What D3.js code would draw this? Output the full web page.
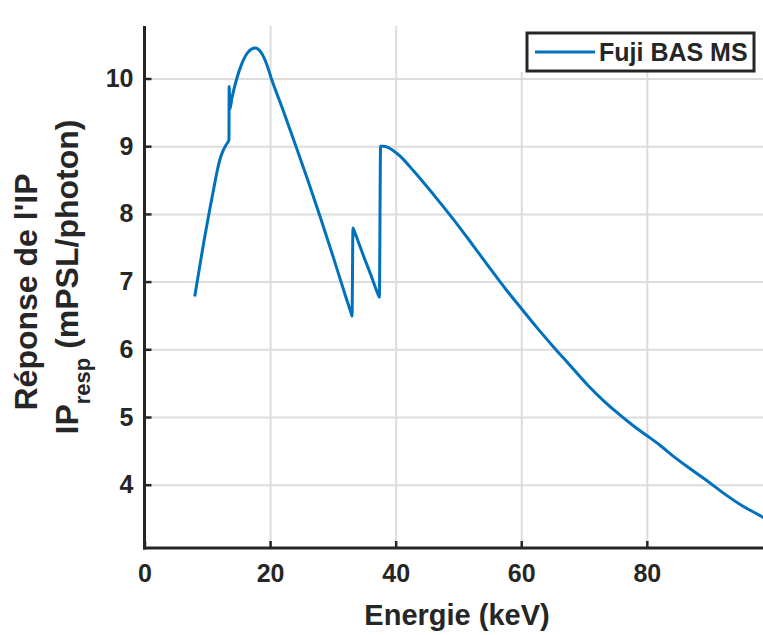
<!DOCTYPE html>
<html>
<head>
<meta charset="utf-8">
<script src="https://cdn.jsdelivr.net/npm/d3@7"></script>
<style>
  html, body { margin: 0; padding: 0; background: #fff; }
  svg { display: block; }
  text { font-family: "Liberation Sans", Arial, Helvetica, sans-serif; font-weight: bold; fill: #262626; }
</style>
</head>
<body>
<svg id="chart" width="763" height="635"></svg>
<script>
// ---- data ----
const energy = [8.0, 8.5, 9.0, 9.5, 10.0, 10.5, 11.0, 11.5, 12.0, 12.5, 13.0, 13.4, 13.45,
  13.48, 13.6, 13.9, 14.3, 14.7, 15.5, 16.5, 17.6, 18.6, 19.5, 20.2,
  22, 24, 26, 28, 30, 32, 32.95, 33.05,
  33.2, 33.3, 34, 35, 36, 37.3, 37.4,
  37.6, 38.1, 40.5, 42.9, 45.9, 49.1, 51.8, 55.0, 57.6, 60.3,
  62.5, 65, 67.5, 70.6, 73, 75.7, 78, 80.1, 82.0, 84.5, 87.3, 90, 92.6, 95, 97.9, 99];
const response = [6.78, 7.06, 7.34, 7.61, 7.87, 8.12, 8.36, 8.6, 8.8, 8.93, 9.02, 9.08, 9.09,
  9.88, 9.55, 9.7, 9.86, 10.0, 10.22, 10.39, 10.45, 10.38, 10.2, 10.0,
  9.55, 9.03, 8.5, 7.95, 7.38, 6.79, 6.52, 6.49,
  7.79, 7.77, 7.6, 7.35, 7.11, 6.79, 6.77,
  9.0, 9.0, 8.87, 8.63, 8.3, 7.93, 7.6, 7.2, 6.88, 6.57,
  6.32, 6.05, 5.79, 5.47, 5.25, 5.03, 4.86, 4.72, 4.59, 4.4, 4.21, 4.03, 3.85, 3.7, 3.55, 3.49];
const xTicks = [0, 20, 40, 60, 80];
const yTicks = [4, 5, 6, 7, 8, 9, 10];
const seriesName = "Fuji BAS MS";
const xLabel = "Energie (keV)";
const yLabelLine1 = "Réponse de l'IP";

// ---- layout ----
const svg = d3.select("#chart");
const pL = 144.5, pR = 763, pT = 26, pB = 548;
const x = d3.scaleLinear().domain([0, 98.5]).range([pL, pR]);
const y = d3.scaleLinear().domain([4, 10]).range([484.7, 78.5]);
const ink = "#262626";

// grid
const gx = svg.append("g").attr("transform", `translate(0,${pB})`)
  .call(d3.axisBottom(x).tickValues(xTicks).tickSize(-(pB - pT)).tickFormat(""));
gx.selectAll("line").attr("stroke", "#dcdcdc").attr("stroke-width", 2);
gx.select(".domain").remove();
const gy = svg.append("g").attr("transform", `translate(${pL},0)`)
  .call(d3.axisLeft(y).tickValues(yTicks).tickSize(-(pR - pL)).tickFormat(""));
gy.selectAll("line").attr("stroke", "#dcdcdc").attr("stroke-width", 2);
gy.select(".domain").remove();

// data line
const line = d3.line().curve(d3.curveMonotoneX).x((d, i) => x(energy[i])).y(d => y(d));
svg.append("path").datum(response)
  .attr("d", line)
  .attr("fill", "none")
  .attr("stroke", "#0072BD")
  .attr("stroke-width", 3)
  .attr("stroke-linejoin", "round");

// axes (inward ticks)
const ax = svg.append("g").attr("transform", `translate(0,${pB})`)
  .call(d3.axisBottom(x).tickValues(xTicks).tickFormat(d3.format("d"))
    .tickSize(-7).tickPadding(16).tickSizeOuter(0));
ax.select(".domain").attr("stroke", ink).attr("stroke-width", 3)
  .attr("d", `M${pL - 1.5},0H${pR}`);
ax.selectAll(".tick line").attr("stroke", ink).attr("stroke-width", 2.5);
ax.selectAll(".tick text").attr("font-size", 25).attr("fill", ink)
  .attr("font-family", "Liberation Sans, Arial, sans-serif").attr("font-weight", "bold");

const ay = svg.append("g").attr("transform", `translate(${pL},0)`)
  .call(d3.axisLeft(y).tickValues(yTicks).tickFormat(d3.format("d"))
    .tickSize(-7).tickPadding(11).tickSizeOuter(0));
ay.select(".domain").attr("stroke", ink).attr("stroke-width", 3)
  .attr("d", `M0,${pT}V${pB + 1.5}`);
ay.selectAll(".tick line").attr("stroke", ink).attr("stroke-width", 2.5);
ay.selectAll(".tick text").attr("font-size", 25).attr("fill", ink)
  .attr("font-family", "Liberation Sans, Arial, sans-serif").attr("font-weight", "bold");

// x label
svg.append("text").attr("x", 457).attr("y", 625).attr("text-anchor", "middle")
  .attr("font-size", 29).text(xLabel);

// y label (two lines, rotated)
svg.append("text").attr("transform", "translate(37,292) rotate(-90)")
  .attr("text-anchor", "middle").attr("font-size", 32).text(yLabelLine1);
const yl2 = svg.append("text").attr("transform", "translate(78,277) rotate(-90)")
  .attr("text-anchor", "middle").attr("font-size", 32);
yl2.append("tspan").text("IP");
yl2.append("tspan").attr("font-size", 22).attr("dy", 12).text("resp");
yl2.append("tspan").attr("dy", -12).text(" (mPSL/photon)");

// legend
const lg = svg.append("g");
lg.append("rect").attr("x", 520).attr("y", 20).attr("width", 240).attr("height", 52).attr("fill", "#fff");
lg.append("rect").attr("x", 527).attr("y", 33).attr("width", 227).attr("height", 38)
  .attr("fill", "#fff").attr("stroke", ink).attr("stroke-width", 3);
lg.append("line").attr("x1", 535).attr("x2", 595).attr("y1", 52).attr("y2", 52)
  .attr("stroke", "#0072BD").attr("stroke-width", 3);
lg.append("text").attr("x", 599).attr("y", 61).attr("font-size", 25).text(seriesName);
</script>
</body>
</html>
